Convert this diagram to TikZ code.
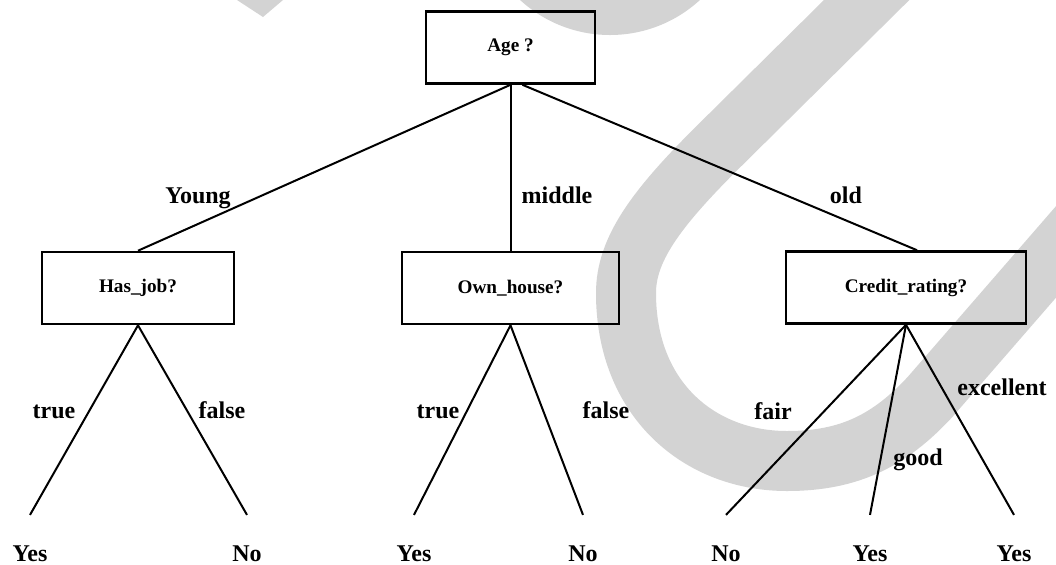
\documentclass[tikz,border=0pt]{standalone}
\usepackage{fontspec}
\setmainfont{Liberation Serif}
\definecolor{markgray}{RGB}{211,211,211}

\begin{document}
\begin{tikzpicture}[x=0.5pt,y=-0.5pt,
  attr/.style={draw,line width=1.3pt,font=\fontsize{9.6}{11}\selectfont\bfseries,minimum height=36pt,inner sep=0pt},
  cond/.style={font=\fontsize{12}{14}\selectfont\bfseries,anchor=base},
  leaf/.style={cond,inner ysep=15pt},
  branch/.style={line width=1pt}]
\useasboundingbox (0,0) rectangle (1056,564);

\begin{scope}
\clip (0,0) rectangle (1056,564);
\fill[markgray] (237,0) -- (283,0) -- (263,17) -- cycle;
\fill[markgray] (610,-98) circle[radius=66.5pt];
\draw[markgray,line width=30pt] (900,-33) -- (715,150)
  .. controls (655,210) and (626,250) .. (626,293)
  .. controls (626,400) and (700,461) .. (787,461)
  .. controls (850,461) and (890,440) .. (930,397) -- (1108,192);
\end{scope}

\node[attr,minimum width=84.5pt] (age) at (510.5,47.5) {Age ?};
\node[attr,minimum width=96pt] (job) at (138,288) {Has\_job?};
\node[attr,minimum width=108.5pt] (house) at (510.5,288) {Own\_house?};
\node[attr,minimum width=120pt] (credit) at (906,287.5) {Credit\_rating?};

\node[leaf] (y1) at (30,561) {Yes};
\node[leaf] (n1) at (247,561) {No};
\node[leaf] (y2) at (414,561) {Yes};
\node[leaf] (n2) at (583,561) {No};
\node[leaf] (n3) at (726,561) {No};
\node[leaf] (y3) at (870,561) {Yes};
\node[leaf] (y4) at (1014,561) {Yes};

\node[cond] (young) at (198,203) {Young};
\node[cond] (middle) at (557,203) {middle};
\node[cond] (old) at (846,203) {old};
\node[cond] (t1) at (54,418) {true};
\node[cond] (f1) at (222,418) {false};
\node[cond] (t2) at (438,418) {true};
\node[cond] (f2) at (606,418) {false};
\node[cond] (fair) at (773,419) {fair};
\node[cond] (good) at (918,465) {good};
\node[cond] (exc) at (1002,395) {excellent};

\draw[branch] (age.south) -- (job.north);
\draw[branch] (age.south) -- (house.north);
\draw[branch] ([xshift=6pt]age.south) -- ([xshift=5.5pt]credit.north);

\draw[branch] (job.south) -- (y1.north);
\draw[branch] (job.south) -- (n1.north);
\draw[branch] (house.south) -- (y2.north);
\draw[branch] (house.south) -- (n2.north);
\draw[branch] (credit.south) -- (n3.north);
\draw[branch] (credit.south) -- (y3.north);
\draw[branch] (credit.south) -- (y4.north);
\end{tikzpicture}
\end{document}
